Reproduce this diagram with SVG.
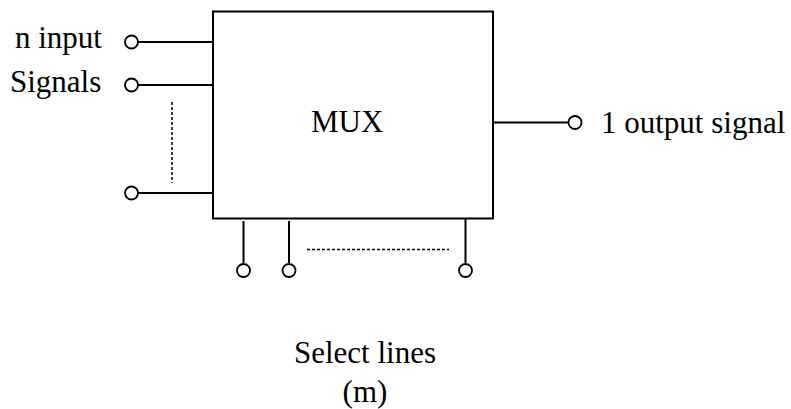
<svg xmlns="http://www.w3.org/2000/svg" width="791" height="409" viewBox="0 0 791 409">
<style>
.t{font-family:"Liberation Serif","Times New Roman",serif;font-size:31px;fill:#000}
.w{stroke:#000;stroke-width:2;fill:none}
.d{stroke:#000;stroke-width:1.5;stroke-dasharray:3,2;fill:none}
.c{stroke:#000;stroke-width:1.8;fill:#fff}
</style>
<rect width="791" height="409" fill="#fff"/>
<g id="mux">
<rect x="213" y="11.5" width="280" height="207" class="w"/>
<text x="311" y="132" class="t">MUX</text>
</g>
<g id="connectors">
<line x1="138" y1="42" x2="213" y2="42" class="w"/>
<line x1="138" y1="85" x2="213" y2="85" class="w"/>
<line x1="138" y1="193" x2="213" y2="193" class="w"/>
<line x1="172" y1="102" x2="172" y2="183" class="d"/>
<line x1="493" y1="122.5" x2="569" y2="122.5" class="w"/>
<line x1="243.5" y1="221" x2="243.5" y2="264" class="w"/>
<line x1="289" y1="221" x2="289" y2="264" class="w"/>
<line x1="465.5" y1="218" x2="465.5" y2="264" class="w"/>
<line x1="307" y1="249.5" x2="449" y2="249.5" class="d"/>
</g>
<g id="inputs">
<circle cx="131.5" cy="42" r="6.5" class="c"/>
<circle cx="131.5" cy="85" r="6.5" class="c"/>
<circle cx="131.5" cy="193" r="6.5" class="c"/>
<text x="15" y="48" class="t">n input</text>
<text x="10" y="92" class="t">Signals</text>
</g>
<g id="output">
<circle cx="575" cy="122.5" r="6.5" class="c"/>
<text x="601" y="133" class="t">1 output signal</text>
</g>
<g id="selects">
<circle cx="243.5" cy="270.5" r="6.5" class="c"/>
<circle cx="289" cy="270.5" r="6.5" class="c"/>
<circle cx="465.5" cy="270.5" r="6.5" class="c"/>
<text x="365" y="363" class="t" text-anchor="middle">Select lines</text>
<text x="365" y="402" class="t" text-anchor="middle">(m)</text>
</g>
</svg>
